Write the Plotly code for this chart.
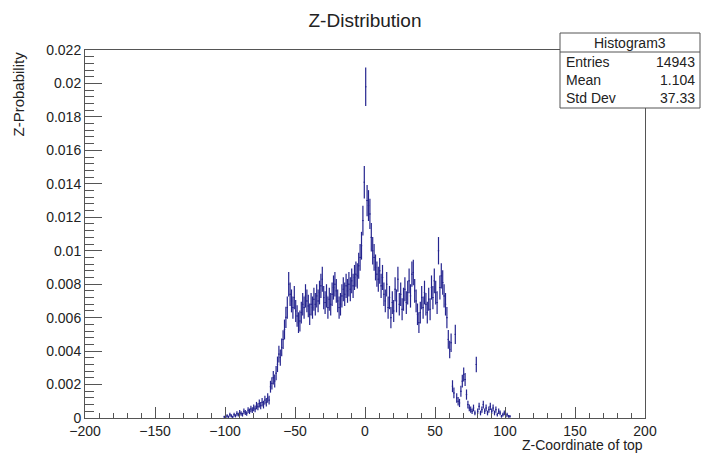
import numpy as np
import plotly.graph_objects as go

# ---------------- data ----------------
title_text = "Z-Distribution"
x_title = "Z-Coordinate of top"
y_title = "Z-Probability"
hist_name = "Histogram3"
stat_labels = ["Entries", "Mean", "Std Dev"]
stat_values = ["14943", "1.104", "37.33"]
n_entries = 14943

first_bin_low_edge = -101   # bins of width 1
bin_width = 1.0
probability = [
    # -101 .. -69
    0.00007, 0.00007, 0.00013, 0.00007, 0.00020, 0.00013, 0.00007, 0.00020,
    0.00013, 0.00027, 0.00020, 0.00033, 0.00027, 0.00020, 0.00040, 0.00033,
    0.00027, 0.00047, 0.00040, 0.00054, 0.00047, 0.00060, 0.00054, 0.00074,
    0.00067, 0.00087, 0.00074, 0.00094, 0.00080, 0.00107, 0.00094, 0.00120,
    0.00107,
    # -68 .. -56
    0.00187, 0.00207, 0.00241, 0.00221, 0.00268, 0.00321, 0.00382, 0.00361,
    0.00422, 0.00469, 0.00529, 0.00602, 0.00660,
    # -55 .. -1
    0.00800, 0.00740, 0.00700, 0.00660, 0.00720, 0.00640, 0.00610, 0.00570,
    0.00580, 0.00630, 0.00680, 0.00660, 0.00730, 0.00700, 0.00670, 0.00620,
    0.00680, 0.00660, 0.00710, 0.00680, 0.00730, 0.00700, 0.00750, 0.00790,
    0.00830, 0.00720, 0.00690, 0.00730, 0.00660, 0.00710, 0.00680, 0.00740,
    0.00780, 0.00800, 0.00760, 0.00700, 0.00660, 0.00680, 0.00730, 0.00770,
    0.00740, 0.00790, 0.00760, 0.00800, 0.00770, 0.00820, 0.00790, 0.00840,
    0.00860, 0.00850, 0.00910, 0.00960, 0.01030, 0.01180, 0.01410,
    # 0 .. 9
    0.01980, 0.01300, 0.01270, 0.01220, 0.01080, 0.01000, 0.00960, 0.00900,
    0.00860, 0.00830,
    # 10 .. 56
    0.00880, 0.00790, 0.00840, 0.00740, 0.00700, 0.00800, 0.00660, 0.00720,
    0.00600, 0.00690, 0.00640, 0.00770, 0.00700, 0.00830, 0.00680, 0.00740,
    0.00650, 0.00710, 0.00770, 0.00690, 0.00750, 0.00820, 0.00730, 0.00860,
    0.00870, 0.00760, 0.00700, 0.00620, 0.00570, 0.00630, 0.00720, 0.00660,
    0.00750, 0.00680, 0.00630, 0.00710, 0.00650, 0.00780, 0.00720, 0.00820,
    0.00750, 0.00690, 0.01000, 0.00780, 0.00850, 0.00810, 0.00730,
    # 57 .. 79
    0.00680, 0.00600, 0.00470, 0.00410, 0.00450, 0.00190, 0.00150, 0.00500,
    0.00120, 0.00100, 0.00090, 0.00160, 0.00220, 0.00260, 0.00230, 0.00140,
    0.00080, 0.00060, 0.00050, 0.00040, 0.00060, 0.00030, 0.00320,
    # 80 .. 103
    0.00040, 0.00070, 0.00030, 0.00050, 0.00080, 0.00040, 0.00060, 0.00030,
    0.00050, 0.00070, 0.00040, 0.00060, 0.00030, 0.00050, 0.00020, 0.00040,
    0.00030, 0.00010, 0.00020, 0.00030, 0.00010, 0.00020, 0.00010, 0.00010,
]

x_tick_vals = [-200, -150, -100, -50, 0, 50, 100, 150, 200]
x_tick_text = ["\u2212200", "\u2212150", "\u2212100", "\u221250", "0", "50", "100", "150", "200"]
y_tick_vals = [0, 0.002, 0.004, 0.006, 0.008, 0.01, 0.012, 0.014, 0.016, 0.018, 0.02, 0.022]
y_tick_text = ["0", "0.002", "0.004", "0.006", "0.008", "0.01", "0.012", "0.014",
               "0.016", "0.018", "0.02", "0.022"]

# ---------------- derived ----------------
prob = np.array(probability)
centers = first_bin_low_edge + bin_width * (np.arange(len(prob)) + 0.5)
errors = np.sqrt(prob / n_entries)

# ---------------- layout geometry ----------------
W, H = 701, 453
L, R, T, B = 85, 645, 50, 418


def px_x(p):
    return (p - L) / (R - L)


def px_y(p):
    return (B - p) / (B - T)


FONT = "Liberation Sans, Arial, Helvetica, sans-serif"
TXT = "#222222"
LINE = "#555555"
MARK = "#25258f"

fig = go.Figure()
fig.add_trace(go.Scatter(
    x=centers, y=prob, mode="markers",
    marker=dict(size=1, color=MARK),
    error_y=dict(type="data", array=errors, visible=True, color=MARK, thickness=1.2, width=0),
    error_x=dict(type="constant", value=bin_width / 2, visible=True, color=MARK, thickness=1, width=0),
    showlegend=False, hoverinfo="skip",
))

fig.update_layout(
    width=W, height=H,
    margin=dict(l=L, r=W - R, t=T, b=H - B, pad=0),
    paper_bgcolor="white", plot_bgcolor="white",
    font=dict(family=FONT, color=TXT, size=14),
    showlegend=False,
    title=dict(text=title_text, x=px_x(365), xref="paper", xanchor="center",
               y=1 - 20 / H, yanchor="middle", font=dict(size=19, color=TXT)),
)

fig.update_xaxes(
    range=[-200, 200], showgrid=False, zeroline=False,
    showline=True, linecolor=LINE, linewidth=1, mirror=True,
    ticks="inside", ticklen=11, tickcolor=LINE, tickwidth=1,
    tickmode="array", tickvals=x_tick_vals, ticktext=x_tick_text,
    tickfont=dict(size=14, color=TXT),
    minor=dict(ticks="inside", ticklen=5.5, tickcolor=LINE, tickwidth=1,
               tickmode="linear", tick0=0, dtick=10, showgrid=False),
)
fig.update_yaxes(
    range=[0, 0.022], showgrid=False, zeroline=False,
    showline=True, linecolor=LINE, linewidth=1, mirror=True,
    ticks="inside", ticklen=17, tickcolor=LINE, tickwidth=1,
    tickmode="array", tickvals=y_tick_vals, ticktext=y_tick_text,
    tickfont=dict(size=14, color=TXT),
    minor=dict(ticks="inside", ticklen=8.5, tickcolor=LINE, tickwidth=1,
               tickmode="linear", tick0=0, dtick=0.0004, showgrid=False),
)

annotations = [
    dict(text=x_title, xref="paper", yref="paper", x=1.0, y=px_y(445),
         xanchor="right", yanchor="middle", showarrow=False, font=dict(size=14, color=TXT)),
    dict(text=y_title, xref="paper", yref="paper", x=px_x(18), y=1.0,
         xanchor="center", yanchor="top", textangle=-90, showarrow=False,
         font=dict(size=15, color=TXT)),
]

# stats box
bx0, bx1, by0, by1, bsep = 560, 700, 33, 108, 52
shapes = [
    dict(type="rect", xref="paper", yref="paper", x0=px_x(bx0), x1=px_x(bx1),
         y0=px_y(by1), y1=px_y(by0), fillcolor="white", line=dict(color=LINE, width=1),
         layer="above"),
    dict(type="line", xref="paper", yref="paper", x0=px_x(bx0), x1=px_x(bx1),
         y0=px_y(bsep), y1=px_y(bsep), line=dict(color=LINE, width=1), layer="above"),
]
annotations.append(dict(text=hist_name, xref="paper", yref="paper", x=px_x((bx0 + bx1) / 2),
                        y=px_y(43), xanchor="center", yanchor="middle", showarrow=False,
                        font=dict(size=14, color=TXT)))
row_y = [62, 80, 98]
for lab, val, yy in zip(stat_labels, stat_values, row_y):
    annotations.append(dict(text=lab, xref="paper", yref="paper", x=px_x(bx0 + 4), y=px_y(yy),
                            xanchor="left", yanchor="middle", showarrow=False,
                            font=dict(size=14, color=TXT)))
    annotations.append(dict(text=val, xref="paper", yref="paper", x=px_x(bx1 - 3), y=px_y(yy),
                            xanchor="right", yanchor="middle", showarrow=False,
                            font=dict(size=14, color=TXT)))

fig.update_layout(annotations=annotations, shapes=shapes)
fig.write_html("out.html", config={"displayModeBar": False},
               post_script="document.body.style.margin='0';document.body.style.overflow='hidden';")
